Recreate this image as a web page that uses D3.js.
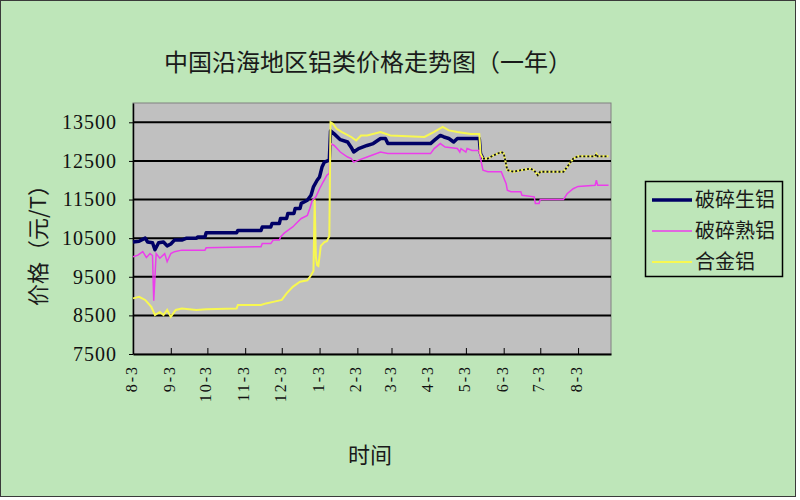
<!DOCTYPE html>
<html><head><meta charset="utf-8">
<script src="https://cdn.jsdelivr.net/npm/d3@7"></script>
<style>html,body{margin:0;padding:0;background:#fff}</style>
</head><body>
<svg id="c" width="800" height="500"></svg>
<script>
const title = "中国沿海地区铝类价格走势图（一年）";
const yTitle = "价格（元/T）";
const xTitle = "时间";
const seriesNames = ["破碎生铝", "破碎熟铝", "合金铝"];
const yTicks = [7500, 8500, 9500, 10500, 11500, 12500, 13500];
const yDomain = [7500, 14000];
const xDomain = ["2009-08-03", "2010-08-30"];
const xTickDates = ["2009-08-03","2009-09-03","2009-10-03","2009-11-03","2009-12-03","2010-01-03","2010-02-03","2010-03-03","2010-04-03","2010-05-03","2010-06-03","2010-07-03","2010-08-03"];

// 破碎生铝
const rawScrap = [["2009-08-03",10400],["2009-08-08",10420],["2009-08-13",10500],["2009-08-15",10400],["2009-08-19",10380],["2009-08-21",10200],["2009-08-24",10380],["2009-08-28",10400],["2009-08-31",10300],["2009-09-03",10350],["2009-09-06",10450],["2009-09-12",10450],["2009-09-16",10500],["2009-09-24",10500],["2009-09-25",10530],["2009-10-01",10530],["2009-10-02",10640],["2009-10-27",10640],["2009-10-28",10700],["2009-11-16",10700],["2009-11-17",10790],["2009-11-24",10790],["2009-11-25",10880],["2009-12-01",10880],["2009-12-02",11010],["2009-12-07",11010],["2009-12-08",11140],["2009-12-13",11140],["2009-12-14",11270],["2009-12-18",11270],["2009-12-19",11400],["2009-12-24",11480],["2009-12-27",11610],["2009-12-29",11830],["2010-01-01",12000],["2010-01-03",12085],["2010-01-05",12340],["2010-01-07",12470],["2010-01-11",12520],["2010-01-12",13280],["2010-01-15",13200],["2010-01-20",13050],["2010-01-26",12990],["2010-01-29",12850],["2010-01-31",12730],["2010-02-04",12820],["2010-02-11",12900],["2010-02-16",12950],["2010-02-22",13080],["2010-02-26",13080],["2010-02-28",12950],["2010-04-04",12950],["2010-04-07",13030],["2010-04-12",13160],["2010-04-15",13120],["2010-04-19",13080],["2010-04-23",12990],["2010-04-26",13080],["2010-05-14",13080],["2010-05-15",12690],["2010-05-17",12560],["2010-05-21",12560],["2010-05-26",12650],["2010-06-01",12730],["2010-06-03",12700],["2010-06-06",12260],["2010-06-11",12220],["2010-06-17",12260],["2010-06-25",12300],["2010-06-28",12250],["2010-07-01",12130],["2010-07-03",12220],["2010-07-22",12220],["2010-07-25",12340],["2010-07-30",12560],["2010-08-03",12620],["2010-08-17",12620],["2010-08-18",12680],["2010-08-19",12620],["2010-08-28",12620]];

// 破碎熟铝
const wroughtScrap = [["2009-08-03",10020],["2009-08-07",10060],["2009-08-11",10150],["2009-08-14",10000],["2009-08-17",10100],["2009-08-19",10050],["2009-08-20",8880],["2009-08-22",10100],["2009-08-25",9980],["2009-08-29",10100],["2009-08-31",9890],["2009-09-03",10100],["2009-09-06",10150],["2009-09-12",10190],["2009-10-01",10190],["2009-10-02",10250],["2009-11-16",10280],["2009-11-17",10360],["2009-11-24",10360],["2009-11-26",10450],["2009-12-01",10450],["2009-12-02",10530],["2009-12-05",10630],["2009-12-08",10700],["2009-12-12",10790],["2009-12-16",10920],["2009-12-19",11010],["2009-12-24",11090],["2009-12-26",11270],["2009-12-28",11480],["2009-12-31",11570],["2010-01-03",11780],["2010-01-06",11960],["2010-01-09",12130],["2010-01-11",12180],["2010-01-12",12950],["2010-01-15",12900],["2010-01-20",12730],["2010-01-26",12600],["2010-01-29",12560],["2010-01-31",12470],["2010-02-04",12520],["2010-02-11",12600],["2010-02-22",12730],["2010-02-28",12690],["2010-04-04",12690],["2010-04-07",12820],["2010-04-12",12950],["2010-04-16",12860],["2010-04-26",12820],["2010-04-28",12730],["2010-04-29",12820],["2010-05-03",12730],["2010-05-04",12820],["2010-05-08",12770],["2010-05-14",12770],["2010-05-15",12560],["2010-05-17",12260],["2010-05-21",12220],["2010-06-01",12220],["2010-06-05",11910],["2010-06-06",11740],["2010-06-09",11700],["2010-06-17",11700],["2010-06-18",11610],["2010-06-28",11570],["2010-06-29",11400],["2010-07-02",11400],["2010-07-03",11500],["2010-07-22",11500],["2010-07-25",11650],["2010-07-30",11780],["2010-08-03",11840],["2010-08-17",11870],["2010-08-18",12000],["2010-08-19",11870],["2010-08-28",11870]];

// 合金铝
const alloyAl = [["2009-08-03",8940],["2009-08-08",8980],["2009-08-13",8900],["2009-08-18",8720],["2009-08-21",8510],["2009-08-25",8590],["2009-08-28",8510],["2009-08-31",8640],["2009-09-03",8460],["2009-09-07",8640],["2009-09-12",8680],["2009-09-24",8640],["2009-10-02",8660],["2009-10-27",8680],["2009-10-28",8770],["2009-11-16",8770],["2009-11-20",8810],["2009-11-26",8850],["2009-12-03",8900],["2009-12-07",9070],["2009-12-12",9240],["2009-12-18",9370],["2009-12-24",9410],["2009-12-27",9540],["2009-12-29",9650],["2009-12-30",11500],["2009-12-31",10000],["2010-01-01",9800],["2010-01-02",9780],["2010-01-04",10300],["2010-01-07",10400],["2010-01-09",10420],["2010-01-11",10550],["2010-01-12",13500],["2010-01-14",13460],["2010-01-17",13330],["2010-01-21",13250],["2010-01-29",13120],["2010-02-02",13030],["2010-02-06",13160],["2010-02-11",13160],["2010-02-22",13250],["2010-03-02",13160],["2010-03-30",13120],["2010-04-07",13250],["2010-04-14",13380],["2010-04-19",13290],["2010-04-26",13250],["2010-05-07",13200],["2010-05-14",13200],["2010-05-15",12690],["2010-05-17",12560],["2010-05-21",12560],["2010-05-26",12650],["2010-06-01",12730],["2010-06-03",12700],["2010-06-06",12260],["2010-06-11",12220],["2010-06-17",12260],["2010-06-25",12300],["2010-06-28",12250],["2010-07-01",12130],["2010-07-03",12220],["2010-07-22",12220],["2010-07-25",12340],["2010-07-30",12560],["2010-08-03",12620],["2010-08-17",12620],["2010-08-18",12680],["2010-08-19",12620],["2010-08-28",12620]];

const overlapStart = "2010-05-17";

const parse = d3.timeParse("%Y-%m-%d");
const svg = d3.select("#c");
const cjk = "'Noto Sans CJK SC','Noto Sans',sans-serif";
const num = "'Liberation Serif','DejaVu Serif',serif";

// background
svg.append("rect").attr("x",0.5).attr("y",0.5).attr("width",795).attr("height",496)
  .attr("fill","#bee6b9").attr("stroke","#3a3a3a").attr("stroke-width",1);

const L = 133, R = 611, T = 103, B = 354;
const x = d3.scaleTime().domain(xDomain.map(parse)).range([L, R]);
const y = d3.scaleLinear().domain(yDomain).range([B, T]);

// plot area
svg.append("rect").attr("x",L).attr("y",T).attr("width",R-L).attr("height",B-T)
  .attr("fill","#c0c0c0").attr("stroke","#808080").attr("stroke-width",1);

// gridlines
svg.append("g").selectAll("line").data(yTicks.filter(v => v > yDomain[0])).join("line")
  .attr("x1",L).attr("x2",R).attr("y1",d=>y(d)).attr("y2",d=>y(d))
  .attr("stroke","#000").attr("stroke-width",2);

// x axis
const xAxis = svg.append("g").attr("transform",`translate(0,${B})`)
  .call(d3.axisBottom(x).tickValues(xTickDates.map(parse)).tickSizeInner(-6).tickSizeOuter(0)
    .tickFormat(d3.timeFormat("%-m-%-d")));
xAxis.select(".domain").attr("stroke","#000").attr("stroke-width",2);
xAxis.selectAll(".tick line").attr("stroke","#000").attr("stroke-width",1);
xAxis.selectAll(".tick text").attr("transform","rotate(-90)").attr("x",-11).attr("y",-2)
  .attr("dy","0.35em").attr("text-anchor","end").attr("fill","#111")
  .style("font-family",num).style("font-size","16px").style("letter-spacing","2px");

// y axis
const yAxis = svg.append("g").attr("transform",`translate(${L},0)`)
  .call(d3.axisLeft(y).tickValues(yTicks).tickSizeInner(4).tickSizeOuter(0).tickPadding(12).tickFormat(d3.format("d")));
yAxis.select(".domain").attr("stroke","#000").attr("stroke-width",1.5);
yAxis.selectAll(".tick line").attr("stroke","#000");
yAxis.selectAll(".tick text").attr("fill","#111")
  .style("font-family",num).style("font-size","20px").style("letter-spacing","1px");

// lines
const line = d3.line().x(d=>x(parse(d[0]))).y(d=>y(d[1]));
const g = svg.append("g");
const ov = parse(overlapStart);
g.append("path").datum(rawScrap.filter(d=>parse(d[0]) <= ov)).attr("d",line)
  .attr("fill","none").attr("stroke","#000066").attr("stroke-width",3.5).attr("stroke-linejoin","round");
g.append("path").datum(wroughtScrap).attr("d",line)
  .attr("fill","none").attr("stroke","#ec3cec").attr("stroke-width",1.5);
g.append("path").datum(alloyAl).attr("d",line)
  .attr("fill","none").attr("stroke","#f8f850").attr("stroke-width",2);
g.append("path").datum(rawScrap.filter(d=>parse(d[0]) >= ov)).attr("d",line)
  .attr("fill","none").attr("stroke","#101020").attr("stroke-width",1.8).attr("stroke-dasharray","2,2");

// titles
svg.append("text").attr("x",368).attr("y",71).attr("text-anchor","middle")
  .style("font-family",cjk).style("font-size","24px").attr("fill","#1a1a1a").text(title);
svg.append("text").attr("transform","translate(38,240) rotate(-90)").attr("text-anchor","middle").attr("dy","0.35em")
  .style("font-family",cjk).style("font-size","22px").attr("fill","#1a1a1a").text(yTitle);
svg.append("text").attr("x",370).attr("y",463).attr("text-anchor","middle")
  .style("font-family",cjk).style("font-size","22px").attr("fill","#1a1a1a").text(xTitle);

// legend
const legendColors = ["#000066","#ec3cec","#f8f850"];
const legendWidths = [3.5,1.5,2];
const lg = svg.append("g");
lg.append("rect").attr("x",645.5).attr("y",181.5).attr("width",137).attr("height",95)
  .attr("fill","none").attr("stroke","#000").attr("stroke-width",1.5);
const rows = lg.selectAll("g.r").data(seriesNames).join("g").attr("class","r")
  .attr("transform",(d,i)=>`translate(0,${[200,231,262][i]})`);
rows.append("line").attr("x1",652).attr("x2",692).attr("y1",0).attr("y2",0)
  .attr("stroke",(d,i)=>legendColors[i]).attr("stroke-width",(d,i)=>legendWidths[i]);
rows.append("text").attr("x",695).attr("dy","0.36em").text(d=>d)
  .style("font-family",cjk).style("font-size","20px").attr("fill","#1a1a1a");
</script>
</body></html>
